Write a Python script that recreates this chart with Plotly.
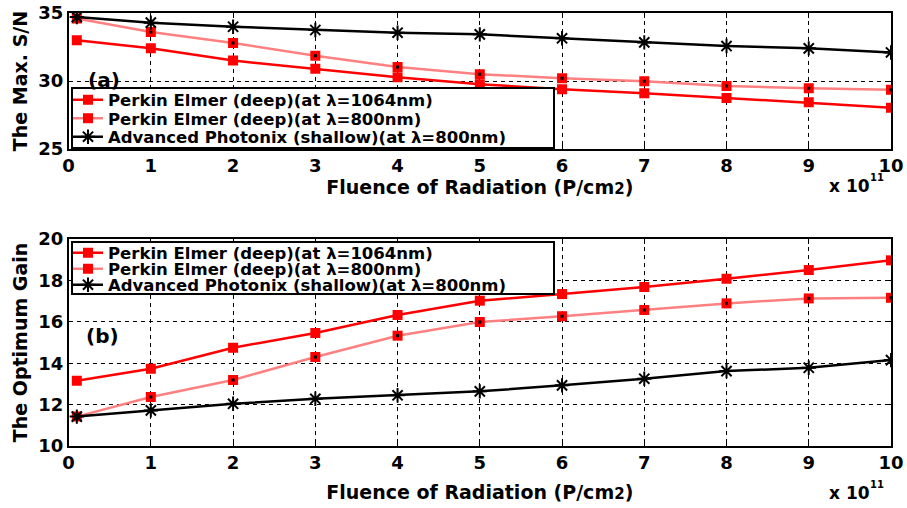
import plotly.graph_objects as go

fluence = [0.1, 1, 2, 3, 4, 5, 6, 7, 8, 9, 10]

snr_pe1064 = [33.0, 32.4, 31.5, 30.9, 30.27, 29.76, 29.4, 29.1, 28.75, 28.43, 28.04]
snr_pe800 = [34.6, 33.6, 32.8, 31.86, 31.03, 30.5, 30.2, 29.98, 29.63, 29.46, 29.36]
snr_ap800 = [34.7, 34.29, 33.99, 33.75, 33.55, 33.43, 33.14, 32.84, 32.57, 32.4, 32.1]

gain_pe1064 = [13.15, 13.73, 14.75, 15.46, 16.33, 17.02, 17.34, 17.68, 18.08, 18.5, 18.97]
gain_pe800 = [11.42, 12.37, 13.19, 14.3, 15.33, 15.99, 16.27, 16.57, 16.89, 17.13, 17.16]
gain_ap800 = [11.42, 11.72, 12.04, 12.28, 12.45, 12.64, 12.93, 13.25, 13.62, 13.78, 14.15]

names = ["Perkin Elmer (deep)(at \u03bb=1064nm)",
         "Perkin Elmer (deep)(at \u03bb=800nm)",
         "Advanced Photonix (shallow)(at \u03bb=800nm)"]
x_ticks = list(range(0, 11))
snr_ticks = [25, 30, 35]
gain_ticks = [10, 12, 14, 16, 18, 20]

RED = "#FF0000"
PINK = "#FF8080"
FONT = "DejaVu Sans, Liberation Sans, Arial, sans-serif"
W, H = 907, 508


def px(v):
    return v / W


def py(v):
    return 1 - v / H


fig = go.Figure()


def add_series(xax, yax, legs, yvals):
    y1, y2, y3 = yvals
    fig.add_trace(go.Scatter(x=fluence, y=y1, name=names[0], mode="lines+markers",
                             line=dict(color=RED, width=2.5),
                             marker=dict(symbol="square", size=10, color=RED),
                             xaxis=xax, yaxis=yax, legend=legs[0]))
    fig.add_trace(go.Scatter(x=fluence, y=y2, name=names[1], mode="lines+markers",
                             line=dict(color=PINK, width=2.5),
                             marker=dict(symbol="square", size=10, color=RED),
                             xaxis=xax, yaxis=yax, legend=legs[1]))
    fig.add_trace(go.Scatter(x=fluence, y=y2, mode="markers", showlegend=False,
                             marker=dict(symbol="square", size=3, color="black"),
                             xaxis=xax, yaxis=yax, hoverinfo="skip"))
    fig.add_trace(go.Scatter(x=fluence, y=y3, name=names[2], mode="lines+markers",
                             line=dict(color="black", width=2.5),
                             marker=dict(symbol="asterisk-open", size=12,
                                         line=dict(color="black", width=2)),
                             xaxis=xax, yaxis=yax, legend=legs[2]))


add_series("x", "y", ["legend", "legend3", "legend4"], (snr_pe1064, snr_pe800, snr_ap800))
add_series("x2", "y2", ["legend2", "legend5", "legend6"], (gain_pe1064, gain_pe800, gain_ap800))

xdom = [px(68.6), px(891)]
top_dom = [py(149), py(13)]
bot_dom = [py(446), py(239)]

axis_common = dict(showline=True, linecolor="black", linewidth=1.5, mirror="ticks",
                   ticks="inside", ticklen=5, tickcolor="black",
                   showgrid=True, gridcolor="black", gridwidth=1, griddash="4px,4px",
                   zeroline=False, automargin=False,
                   tickfont=dict(family=FONT, size=18, color="black", weight="bold"))

xtitle = "Fluence of Radiation (P/cm<span style='font-size:15px'>2</span>)"
title_font = dict(family=FONT, size=19, color="black", weight="bold")
leg_font = dict(family=FONT, size=16.5, color="black", weight="bold")


def leg(yc):
    return dict(x=px(68), y=py(yc), xanchor="left", yanchor="middle",
                bgcolor="rgba(0,0,0,0)", borderwidth=0, font=leg_font)


fig.update_layout(
    width=W, height=H,
    margin=dict(l=0, r=0, t=0, b=0),
    paper_bgcolor="white", plot_bgcolor="white",
    font=dict(family=FONT, color="black", weight="bold"),
    xaxis=dict(domain=xdom, range=[0, 10], tickvals=x_ticks, anchor="y",
               title=dict(text=xtitle, font=title_font, standoff=2), **axis_common),
    yaxis=dict(domain=top_dom, range=[25, 35], tickvals=snr_ticks, anchor="x",
               title=dict(text="The Max. S/N", font=title_font, standoff=6), **axis_common),
    xaxis2=dict(domain=xdom, range=[0, 10], tickvals=x_ticks, anchor="y2",
                title=dict(text=xtitle, font=title_font, standoff=13), **axis_common),
    yaxis2=dict(domain=bot_dom, range=[10, 20], tickvals=gain_ticks, anchor="x2",
                title=dict(text="The Optimum Gain", font=title_font, standoff=6), **axis_common),
    legend=leg(100), legend3=leg(118.5), legend4=leg(137),
    legend2=leg(253), legend5=leg(269), legend6=leg(285),
    showlegend=True,
)

# legend boxes (white fill, black frame)
for (y0, y1) in [(88, 148), (242, 294)]:
    fig.add_shape(type="rect", xref="paper", yref="paper",
                  x0=px(72), x1=px(554), y0=py(y1), y1=py(y0),
                  fillcolor="white", line=dict(color="black", width=2), layer="above")

ann_font = dict(family=FONT, size=20, color="black", weight="bold")
fig.add_annotation(text="(a)", xref="paper", yref="paper", x=px(104), y=py(80),
                   xanchor="center", yanchor="middle", showarrow=False, font=ann_font)
fig.add_annotation(text="(b)", xref="paper", yref="paper", x=px(102), y=py(336),
                   xanchor="center", yanchor="middle", showarrow=False, font=ann_font)
mult_font = dict(family=FONT, size=17, color="black", weight="bold")
sup_font = dict(family=FONT, size=10, color="black", weight="bold")
for yc in (186, 493):
    fig.add_annotation(text="x 10", xref="paper", yref="paper", x=px(872), y=py(yc),
                       xanchor="right", yanchor="middle", showarrow=False, font=mult_font)
    fig.add_annotation(text="11", xref="paper", yref="paper", x=px(868), y=py(yc - 9),
                       xanchor="left", yanchor="middle", showarrow=False, font=sup_font)

fig.write_html("out.html")
